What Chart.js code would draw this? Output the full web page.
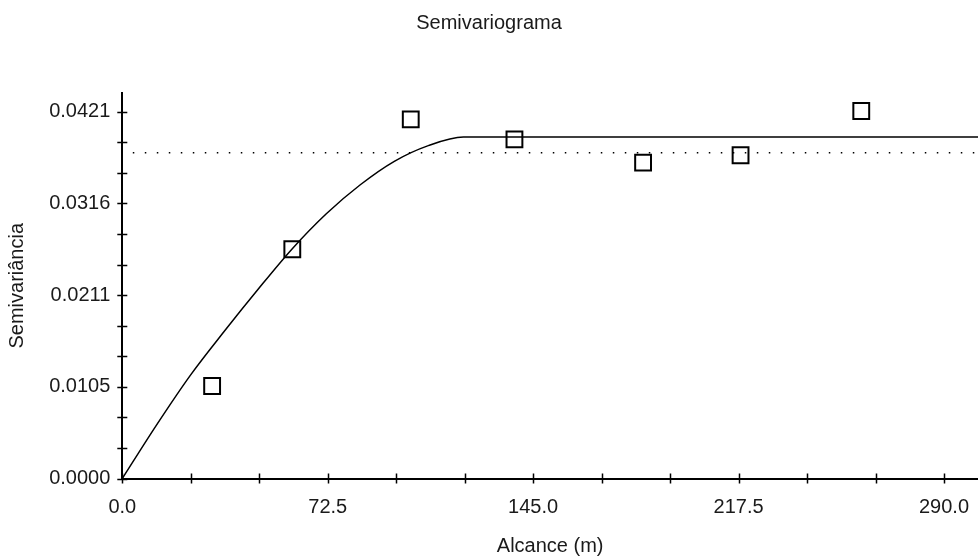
<!DOCTYPE html>
<html>
<head>
<meta charset="utf-8">
<title>Semivariograma</title>
<script src="https://cdn.jsdelivr.net/npm/chart.js@4/dist/chart.umd.min.js"></script>
<style>
  html, body { margin: 0; padding: 0; background: #ffffff; }
  #wrap { width: 978px; height: 560px; }
</style>
</head>
<body>
<div id="wrap"><canvas id="c" width="978" height="560"></canvas></div>
<script>
// Experimental semivariance per lag distance (m)
const lagDistances = [31.7, 60.0, 101.8, 138.4, 183.8, 218.2, 260.8];
const semivariance = [0.01062, 0.02631, 0.04123, 0.03893, 0.03625, 0.03710, 0.04218];

// Fitted model curve (distance, semivariance)
const modelDistances = [0, 12, 24, 36, 48, 60, 72, 84, 96, 108, 120.4, 302];
const modelValues = [0, 0.00610, 0.01184, 0.01690, 0.02175, 0.02638, 0.03039, 0.03372, 0.03641, 0.03821, 0.03920, 0.03920];

// Sample variance reference line
const sampleVariance = 0.0374;

// Axis ticks
const xTickLabels = ['0.0', '72.5', '145.0', '217.5', '290.0'];
const xMajorStep = 72.5;
const yTickLabels = ['0.0000', '0.0105', '0.0211', '0.0316', '0.0421'];
const yMajorStep = 0.0421 / 4;
const minorPerMajor = 3;
const xMax = 302;
const yMax = 0.04425;

function tickValues(step, labels) {
  const vals = [];
  const n = (labels.length - 1) * minorPerMajor;
  for (let i = 0; i <= n; i++) vals.push(step * i / minorPerMajor);
  return vals;
}
const xTicks = tickValues(xMajorStep, xTickLabels);
const yTicks = tickValues(yMajorStep, yTickLabels);

Chart.defaults.font.family = "'Liberation Sans', Arial, sans-serif";
Chart.defaults.font.size = 20;
Chart.defaults.color = '#1a1a1a';

// Tick marks that cross the axis line on both sides
const crossTicks = {
  id: 'crossTicks',
  afterDraw(chart) {
    const { ctx, scales: { x, y } } = chart;
    ctx.save();
    ctx.strokeStyle = '#000';
    ctx.lineWidth = 1.5;
    ctx.beginPath();
    const ax = x.left;
    yTicks.forEach(v => {
      const py = Math.round(y.getPixelForValue(v)) + 0.5;
      ctx.moveTo(ax - 5, py);
      ctx.lineTo(ax + 5, py);
    });
    const ay = y.bottom;
    xTicks.forEach(v => {
      const px = Math.round(x.getPixelForValue(v)) + 0.5;
      ctx.moveTo(px, ay - 5);
      ctx.lineTo(px, ay + 5);
    });
    ctx.stroke();
    ctx.restore();
  }
};

new Chart(document.getElementById('c'), {
  type: 'scatter',
  data: {
    datasets: [
      {
        label: 'Modelo',
        type: 'line',
        data: modelDistances.map((d, i) => ({ x: d, y: modelValues[i] })),
        borderColor: '#000',
        borderWidth: 1.5,
        pointRadius: 0,
        fill: false,
        cubicInterpolationMode: 'monotone'
      },
      {
        label: 'Variância',
        type: 'line',
        data: [{ x: 0, y: sampleVariance }, { x: xMax, y: sampleVariance }],
        borderColor: '#000',
        borderWidth: 1.5,
        borderDash: [1.5, 10.5],
        borderDashOffset: 1.5,
        pointRadius: 0,
        fill: false
      },
      {
        label: 'Semivariância',
        data: lagDistances.map((d, i) => ({ x: d, y: semivariance[i] })),
        pointStyle: 'rect',
        pointRadius: 11.2,
        pointHoverRadius: 11.2,
        pointBorderWidth: 2,
        pointBorderColor: '#000',
        pointBackgroundColor: 'rgba(0,0,0,0)',
        showLine: false,
        clip: false
      }
    ]
  },
  options: {
    responsive: false,
    animation: false,
    devicePixelRatio: 1,
    layout: { padding: 0, autoPadding: false },
    plugins: {
      legend: { display: false },
      tooltip: { enabled: false },
      title: {
        display: true,
        text: 'Semivariograma',
        color: '#1a1a1a',
        font: { size: 20, weight: 'normal' },
        padding: { top: 11.5, bottom: 57.5 }
      }
    },
    scales: {
      x: {
        type: 'linear',
        min: 0,
        max: xMax,
        afterBuildTicks: s => { s.ticks = xTicks.map(v => ({ value: v })); },
        afterFit: s => { s.height = 81.5; s.paddingLeft = 0; s.paddingRight = 0; },
        ticks: {
          autoSkip: false,
          maxRotation: 0,
          padding: 12,
          callback: (v, i) => (i % minorPerMajor === 0 ? xTickLabels[i / minorPerMajor] : '')
        },
        grid: { drawOnChartArea: false, drawTicks: true, tickLength: 5, color: 'rgba(0,0,0,0)' },
        border: { display: true, color: '#000', width: 2 },
        title: {
          display: true,
          text: 'Alcance (m)',
          font: { size: 20 },
          padding: { top: 1.5, bottom: 1.5 }
        }
      },
      y: {
        type: 'linear',
        min: 0,
        max: yMax,
        afterBuildTicks: s => { s.ticks = yTicks.map(v => ({ value: v })); },
        afterFit: s => { s.width = 122.3; s.paddingTop = 0; s.paddingBottom = 0; },
        ticks: {
          autoSkip: false,
          padding: 7,
          callback: (v, i) => (i % minorPerMajor === 0 ? yTickLabels[i / minorPerMajor] : '')
        },
        grid: { drawOnChartArea: false, drawTicks: true, tickLength: 5, color: 'rgba(0,0,0,0)' },
        border: { display: true, color: '#000', width: 2 },
        title: {
          display: true,
          text: 'Semivariância',
          font: { size: 20 },
          padding: { top: 5.5, bottom: 5.5 }
        }
      }
    }
  },
  plugins: [crossTicks]
});
</script>
</body>
</html>
